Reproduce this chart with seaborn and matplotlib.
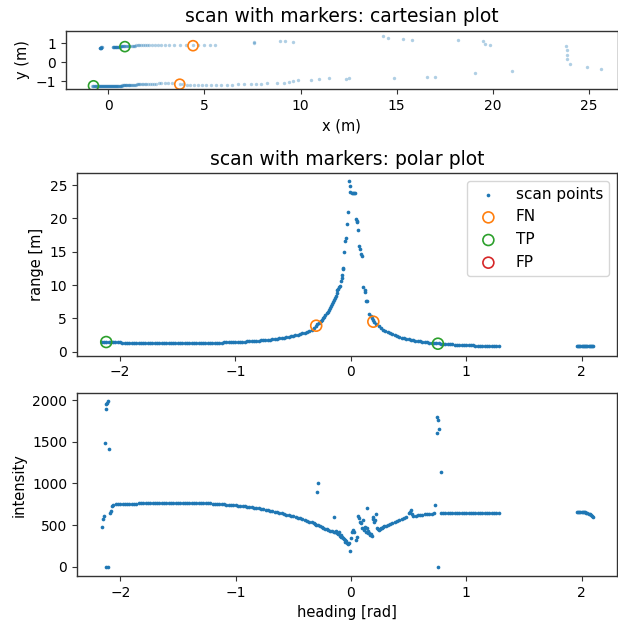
import numpy as np
import pandas as pd
import matplotlib
matplotlib.use("Agg")
import matplotlib.pyplot as plt
import seaborn as sns

# ---------------- data ----------------
# range scan: right-hand wall, regular 0.02 rad steps
heading_wall_r = np.linspace(-2.16, -0.32, 93)
range_wall_r = [
    1.50, 1.49, 1.47, 1.46, 1.44, 1.43, 1.41, 1.40, 1.38,
    1.37, 1.36, 1.35, 1.33, 1.32, 1.31, 1.30, 1.29, 1.28, 1.28,
    1.27, 1.26, 1.26, 1.25, 1.25, 1.24, 1.24, 1.24, 1.24, 1.23,
    1.23, 1.24, 1.24, 1.24, 1.24, 1.24, 1.25, 1.25, 1.25, 1.26,
    1.26, 1.27, 1.28, 1.28, 1.29, 1.30, 1.30, 1.31, 1.32, 1.33,
    1.34, 1.35, 1.36, 1.37, 1.38, 1.39, 1.41, 1.42, 1.43, 1.45,
    1.46, 1.48, 1.50, 1.52, 1.54, 1.56, 1.58, 1.61, 1.63, 1.66,
    1.69, 1.72, 1.75, 1.78, 1.82, 1.86, 1.90, 1.94, 1.99, 2.04,
    2.09, 2.15, 2.21, 2.28, 2.36, 2.44, 2.53, 2.63, 2.74, 2.86,
    2.99, 3.14, 3.31, 3.50,
]
# range scan: far returns around the corridor end
heading_peak = [
    -0.30, -0.29, -0.28, -0.27, -0.26, -0.25, -0.24, -0.23, -0.22, -0.21,
    -0.20, -0.19, -0.18, -0.17, -0.16, -0.152, -0.146, -0.139, -0.131, -0.123,
    -0.117, -0.111, -0.103, -0.094, -0.088, -0.080, -0.074, -0.069, -0.065, -0.056,
    -0.048, -0.044, -0.030, -0.021, -0.013, -0.009, -0.003, 0.007, 0.016, 0.027,
    0.036, 0.045, 0.050, 0.057, 0.065, 0.074, 0.080, 0.088, 0.097, 0.109,
    0.120, 0.126, 0.132, 0.143, 0.161, 0.172, 0.180, 0.190,
]
range_peak = [
    3.90, 4.08, 4.25, 4.43, 4.62, 4.82, 5.02, 5.25, 5.48, 5.74,
    6.00, 6.28, 6.55, 6.85, 7.15, 7.50, 7.75, 8.05, 8.35, 8.85,
    9.20, 9.45, 9.65, 9.90, 10.6, 11.0, 11.5, 12.4, 12.55, 14.9,
    16.6, 17.0, 19.1, 21.0, 25.6, 24.9, 24.0, 23.85, 23.85, 23.85,
    23.8, 19.85, 19.6, 19.5, 18.2, 15.85, 15.35, 14.6, 14.35, 9.65,
    9.25, 9.0, 7.65, 7.65, 5.65, 5.4, 5.05, 4.75,
]
# range scan: left-hand wall, regular 0.02 rad steps
heading_wall_l = np.linspace(0.20, 1.28, 55)
range_wall_l = [
    4.50, 4.15, 3.85, 3.55, 3.30, 3.10, 2.90, 2.74, 2.59, 2.45,
    2.33, 2.22, 2.12, 2.02, 1.94, 1.86, 1.79, 1.72, 1.66, 1.60,
    1.55, 1.50, 1.45, 1.41, 1.37, 1.33, 1.29, 1.26, 1.23, 1.20,
    1.17, 1.15, 1.12, 1.10, 1.08, 1.06, 1.04, 1.02, 1.00, 0.99,
    0.97, 0.96, 0.95, 0.93, 0.92, 0.91, 0.90, 0.89, 0.88, 0.87,
    0.87, 0.86, 0.85, 0.85, 0.84,
]
# range scan: short segment behind the sensor
heading_back = np.linspace(1.96, 2.10, 15)
range_back = [0.86, 0.86, 0.86, 0.86, 0.85, 0.85, 0.85, 0.85,
              0.85, 0.85, 0.85, 0.85, 0.86, 0.86, 0.86]

# evaluation markers (heading [rad], range [m])
fn_heading = [-0.30, 0.195]
fn_range = [3.90, 4.50]
tp_heading = [-2.12, 0.755]
tp_range = [1.45, 1.20]
fp_heading = []
fp_range = []

# intensity
int_heading_start = [-2.159, -2.153, -2.142, -2.133, -2.127, -2.121, -2.115,
                     -2.110, -2.121, -2.110, -2.098, -2.090, -2.080, -2.072]
int_start = [472, 568, 608, 1488, 1892, 1948, 1965,
             1988, 0, 0, 1416, 648, 668, 728]
int_heading_a = np.linspace(-2.06, -0.34, 87)
int_a = [
    745, 750, 752, 753, 754, 755, 756, 757, 758, 758,
    759, 760, 760, 761, 762, 762, 763, 763, 764, 764,
    765, 765, 766, 766, 767, 767, 767, 768, 768, 768,
    768, 768, 768, 767, 767, 767, 766, 766, 765, 764,
    763, 762, 761, 759, 757, 755, 753, 751, 749, 747,
    745, 742, 739, 736, 733, 730, 727, 724, 721, 717,
    713, 709, 705, 700, 695, 690, 685, 679, 673, 667,
    661, 655, 648, 641, 634, 627, 620, 612, 604, 596,
    588, 580, 572, 562, 553, 543, 533,
]
int_heading_peak = [
    -0.32, -0.31, -0.30, -0.296, -0.287, -0.285, -0.27, -0.255, -0.24, -0.225,
    -0.21, -0.195, -0.18, -0.165, -0.151, -0.148, -0.135, -0.126, -0.12, -0.112,
    -0.105, -0.098, -0.09, -0.082, -0.075, -0.068, -0.062, -0.055, -0.048, -0.04,
    -0.032, -0.025, -0.015, -0.007, 0.002, 0.007, 0.015, 0.022, 0.03, 0.045,
    0.057, 0.065, 0.072, 0.08, 0.088, 0.095, 0.103, 0.11, 0.114, 0.123,
    0.13, 0.137, 0.14, 0.147, 0.152, 0.16, 0.167, 0.175, 0.182, 0.19,
    0.195, 0.202, 0.21, 0.218, 0.225, 0.232, 0.24, 0.25, 0.26, 0.27,
    0.28, 0.29,
]
int_peak = [
    530, 515, 505, 892, 1000, 498, 486, 478, 468, 458,
    450, 440, 432, 424, 600, 420, 418, 430, 405, 392,
    412, 368, 380, 360, 352, 340, 330, 318, 300, 310,
    288, 272, 280, 192, 350, 420, 432, 440, 420, 320,
    360, 608, 580, 540, 520, 470, 560, 440, 460, 480,
    420, 700, 460, 400, 432, 400, 380, 392, 370, 600,
    570, 540, 560, 628, 460, 450, 440, 455, 462, 470,
    478, 484,
]
int_heading_c = [0.30, 0.32, 0.34, 0.36, 0.38, 0.40, 0.42, 0.44, 0.46, 0.48,
                 0.50, 0.51, 0.522, 0.53, 0.54, 0.56, 0.58, 0.60, 0.62, 0.64,
                 0.66, 0.68, 0.70, 0.72, 0.733, 0.744, 0.748, 0.753, 0.755, 0.764,
                 0.779]
int_c = [490, 503, 516, 528, 540, 550, 560, 570, 582, 598,
         640, 662, 682, 632, 612, 614, 618, 622, 626, 630,
         633, 636, 638, 640, 742, 1600, 1792, 0, 1760, 1656,
         1140]
int_heading_flat = np.linspace(0.78, 1.28, 26)
int_flat = [645, 648, 649, 650, 650, 650, 650, 649, 649, 649,
            649, 649, 648, 648, 648, 648, 648, 648, 647, 647,
            647, 647, 647, 646, 646, 646]
int_heading_back = np.linspace(1.96, 2.10, 15)
int_back = [660, 661, 662, 662, 662, 661, 660, 655, 648, 642,
            636, 628, 618, 608, 600]

# ---------------- assemble ----------------
scan = pd.DataFrame({
    "heading": np.concatenate([heading_wall_r, heading_peak, heading_wall_l, heading_back]),
    "range": np.concatenate([range_wall_r, range_peak, range_wall_l, range_back]),
})
scan["x"] = scan["range"] * np.cos(scan["heading"])
scan["y"] = scan["range"] * np.sin(scan["heading"])

inten = pd.DataFrame({
    "heading": np.concatenate([int_heading_start, int_heading_a, int_heading_peak,
                               int_heading_c, int_heading_flat, int_heading_back]),
    "intensity": np.concatenate([int_start, int_a, int_peak, int_c, int_flat, int_back]),
})

def to_xy(h, r):
    h = np.asarray(h, dtype=float)
    r = np.asarray(r, dtype=float)
    return r * np.cos(h), r * np.sin(h)

fn_x, fn_y = to_xy(fn_heading, fn_range)
tp_x, tp_y = to_xy(tp_heading, tp_range)

# ---------------- style ----------------
plt.rcParams.update({
    "font.family": ["DejaVu Sans"],
    "axes.edgecolor": "0.2",
    "axes.linewidth": 1.0,
    "xtick.color": "0.2",
    "ytick.color": "0.2",
    "xtick.labelcolor": "black",
    "ytick.labelcolor": "black",
    "xtick.labelsize": 10,
    "ytick.labelsize": 10,
    "axes.labelsize": 10.5,
    "axes.titlesize": 13.5,
})

W, H = 618, 622
fig = plt.figure(figsize=(W / 100, H / 100), dpi=100)

def box(l, t, r, b):
    return [l / W, 1 - b / H, (r - l) / W, (b - t) / H]

ax_c = fig.add_axes(box(65.7, 30.7, 617.5, 89.3))
ax_p = fig.add_axes(box(76.8, 173.0, 617.0, 355.5))
ax_i = fig.add_axes(box(77.0, 393.3, 617.0, 576.0))

blue, orange, green, red = "#1f77b4", "#ff7f0e", "#2ca02c", "#d62728"
ring = dict(s=62, facecolor="none", linewidth=1.2)

# --- cartesian ---
sns.scatterplot(data=scan, x="x", y="y", ax=ax_c, color=blue, s=6,
                alpha=0.35, linewidth=0, legend=False)
sns.scatterplot(x=fn_x, y=fn_y, ax=ax_c, color=orange, edgecolor=orange,
                s=52, facecolor="none", linewidth=1.2)
sns.scatterplot(x=tp_x, y=tp_y, ax=ax_c, color=green, edgecolor=green,
                s=52, facecolor="none", linewidth=1.2)
ax_c.set_xlim(-2.2, 26.47)
ax_c.set_ylim(-1.42, 1.66)
ax_c.set_xticks([0, 5, 10, 15, 20, 25])
ax_c.set_yticks([-1, 0, 1])
ax_c.set_xlabel("x (m)")
ax_c.set_ylabel("y (m)")
ax_c.set_title("scan with markers: cartesian plot")

# --- polar (heading vs range) ---
sns.scatterplot(data=scan, x="heading", y="range", ax=ax_p, color=blue, s=7,
                linewidth=0, label="scan points")
sns.scatterplot(x=fn_heading, y=fn_range, ax=ax_p, color=orange,
                edgecolor=orange, label="FN", **ring)
sns.scatterplot(x=tp_heading, y=tp_range, ax=ax_p, color=green,
                edgecolor=green, label="TP", **ring)
ax_p.scatter(fp_heading, fp_range, color=red, edgecolor=red, label="FP", **ring)
ax_p.set_xlim(-2.375, 2.307)
ax_p.set_ylim(-0.57, 26.8)
ax_p.set_xticks([-2, -1, 0, 1, 2])
ax_p.set_yticks([0, 5, 10, 15, 20, 25])
ax_p.set_xlabel("")
ax_p.set_ylabel("range [m]")
ax_p.set_title("scan with markers: polar plot")
ax_p.legend(loc="upper right", fontsize=11, scatterpoints=1)

# --- intensity ---
sns.scatterplot(data=inten, x="heading", y="intensity", ax=ax_i, color=blue,
                s=7, linewidth=0, legend=False)
ax_i.set_xlim(-2.375, 2.307)
ax_i.set_ylim(-110, 2082)
ax_i.set_xticks([-2, -1, 0, 1, 2])
ax_i.set_yticks([0, 500, 1000, 1500, 2000])
ax_i.set_xlabel("heading [rad]")
ax_i.set_ylabel("intensity")

fig.savefig("out.png", dpi=100)
